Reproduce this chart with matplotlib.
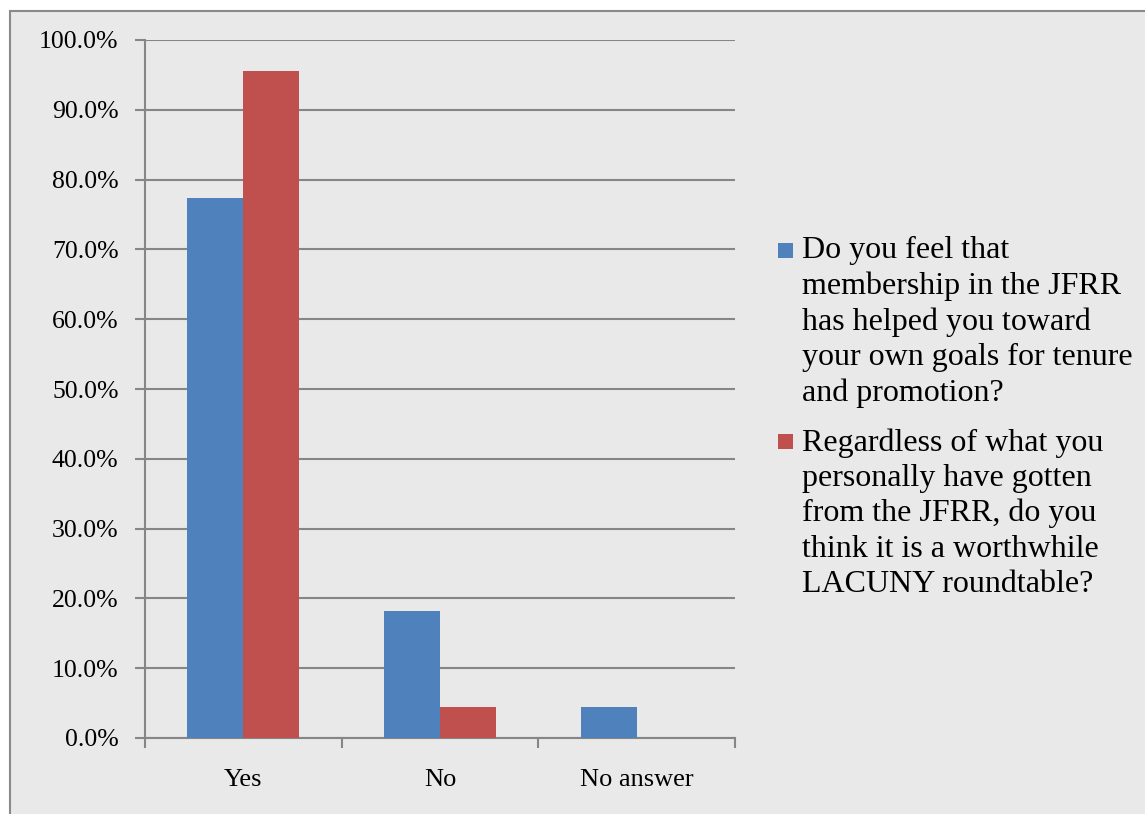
import matplotlib.pyplot as plt
import numpy as np
from matplotlib.patches import Rectangle

categories = ["Yes", "No", "No answer"]
helped = [77.3, 18.2, 4.5]
worthwhile = [95.5, 4.5, 0.0]
labels = [
    "Do you feel that\nmembership in the JFRR\nhas helped you toward\nyour own goals for tenure\nand promotion?",
    "Regardless of what you\npersonally have gotten\nfrom the JFRR, do you\nthink it is a worthwhile\nLACUNY roundtable?",
]
blue = "#4f81bd"
red = "#c0504d"
bg = "#e9e9e9"
grid = "#868686"

plt.rcParams['font.family'] = ['Liberation Serif', 'DejaVu Serif']

W, H = 1145, 814
fig = plt.figure(figsize=(W / 100, H / 100), dpi=100)
fig.patch.set_facecolor("white")
# chart area with its outer border (right and bottom edges cut off)
fig.patches.append(Rectangle((10 / W, -0.05), 1.1, 1 - 11 / H + 0.05,
                             transform=fig.transFigure, facecolor=bg,
                             edgecolor="#8a8a8a", linewidth=1.5, zorder=-10))

ax = fig.add_axes([145 / W, 1 - 738 / H, 590 / W, 698 / H])
ax.patch.set_alpha(0)

x = np.arange(len(categories))
w = 0.285
ax.bar(x - w / 2, helped, w, color=blue, zorder=3)
ax.bar(x + w / 2, worthwhile, w, color=red, zorder=3)

ax.set_xlim(-0.5, 2.5)
ax.set_ylim(0, 100)
ax.set_yticks(np.arange(0, 101, 10))
ax.set_yticklabels([f"{v:.1f}%" for v in np.arange(0, 101, 10)])
ax.yaxis.grid(True, color=grid, linewidth=1.5, zorder=0)
ax.set_axisbelow(True)

ax.set_xticks(x)
ax.set_xticklabels(categories)
ax.set_xticks([-0.5, 0.5, 1.5, 2.5], minor=True)
ax.tick_params(axis="x", which="major", length=0, pad=22, labelsize=19)
ax.tick_params(axis="x", which="minor", length=7, width=1.5, color=grid, direction="out")
ax.tick_params(axis="y", length=7, width=1.5, color=grid, labelsize=18.5, pad=12)

for s in ["top", "right"]:
    ax.spines[s].set_visible(False)
for s in ["left", "bottom"]:
    ax.spines[s].set_color(grid)
    ax.spines[s].set_linewidth(1.5)

# legend drawn by hand: marker beside the first line of each entry
for lab, col, top, mtop in [(labels[0], blue, 236, 243), (labels[1], red, 428, 434)]:
    fig.patches.append(Rectangle((778 / W, 1 - (mtop + 15) / H), 15 / W, 15 / H,
                                 transform=fig.transFigure, facecolor=col,
                                 edgecolor="none"))
    fig.text(802 / W, 1 - top / H, lab, fontsize=23, va="top",
             ha="left", linespacing=1.28)

fig.savefig("out.png", dpi=100, facecolor=fig.get_facecolor())
